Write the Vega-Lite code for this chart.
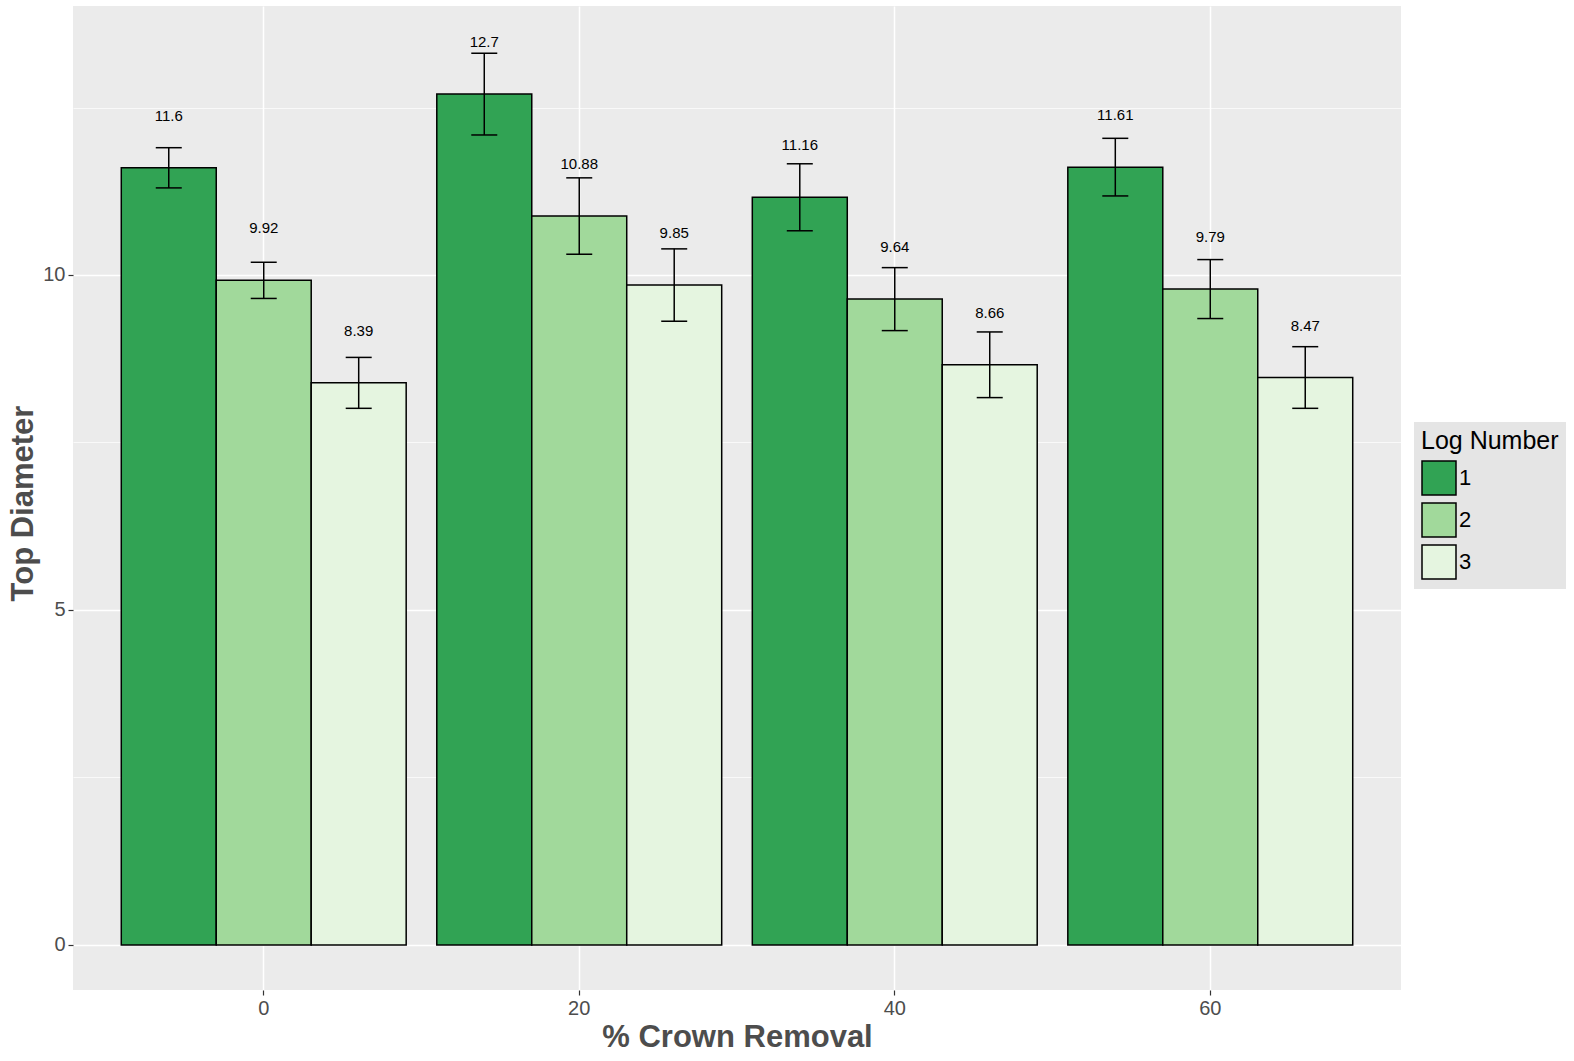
{
  "$schema": "https://vega.github.io/schema/vega-lite/v6.json",
  "autosize": "none",
  "width": 1328,
  "height": 984,
  "padding": {"left": 73, "top": 6, "right": 173, "bottom": 71},
  "background": "white",
  "config": {
    "font": "Liberation Sans",
    "view": {"fill": "#ebebeb", "stroke": null}
  },
  "data": {
    "values": [
      {"removal": "0", "log": "1", "mean": 11.6, "lo": 11.3, "hi": 11.9, "label": "11.6"},
      {"removal": "0", "log": "2", "mean": 9.92, "lo": 9.65, "hi": 10.19, "label": "9.92"},
      {"removal": "0", "log": "3", "mean": 8.39, "lo": 8.01, "hi": 8.77, "label": "8.39"},
      {"removal": "20", "log": "1", "mean": 12.7, "lo": 12.09, "hi": 13.31, "label": "12.7"},
      {"removal": "20", "log": "2", "mean": 10.88, "lo": 10.31, "hi": 11.45, "label": "10.88"},
      {"removal": "20", "log": "3", "mean": 9.85, "lo": 9.31, "hi": 10.39, "label": "9.85"},
      {"removal": "40", "log": "1", "mean": 11.16, "lo": 10.66, "hi": 11.66, "label": "11.16"},
      {"removal": "40", "log": "2", "mean": 9.64, "lo": 9.17, "hi": 10.11, "label": "9.64"},
      {"removal": "40", "log": "3", "mean": 8.66, "lo": 8.17, "hi": 9.15, "label": "8.66"},
      {"removal": "60", "log": "1", "mean": 11.61, "lo": 11.18, "hi": 12.04, "label": "11.61"},
      {"removal": "60", "log": "2", "mean": 9.79, "lo": 9.35, "hi": 10.23, "label": "9.79"},
      {"removal": "60", "log": "3", "mean": 8.47, "lo": 8.01, "hi": 8.93, "label": "8.47"}
    ]
  },
  "encoding": {
    "x": {
      "field": "removal", "type": "nominal", "sort": ["0", "20", "40", "60"],
      "scale": {"paddingInner": 0.097, "paddingOuter": 0.153},
      "axis": {
        "title": "% Crown Removal", "labelAngle": 0, "bandPosition": 0.5,
        "domain": false, "grid": true, "gridColor": "white", "gridWidth": 1.5,
        "tickColor": "#333333", "tickSize": 5, "tickWidth": 1.2,
        "labelFontSize": 20, "labelColor": "#4d4d4d", "labelPadding": 3,
        "titleFontSize": 31, "titleFontWeight": "bold", "titleColor": "#4d4d4d", "titlePadding": 4
      }
    },
    "xOffset": {"field": "log", "type": "nominal", "scale": {"paddingInner": 0, "paddingOuter": 0}}
  },
  "layer": [
    {
      "mark": {"type": "bar", "stroke": "black", "strokeWidth": 1.5},
      "encoding": {
        "y": {
          "field": "mean", "type": "quantitative",
          "scale": {"domain": [-0.672, 14.015], "nice": false, "zero": false},
          "axis": {
            "title": "Top Diameter", "values": [0, 2.5, 5, 7.5, 10, 12.5],
            "labelExpr": "datum.value % 5 === 0 ? format(datum.value, 'd') : ''",
            "domain": false, "grid": true, "gridColor": "white",
            "gridWidth": {"condition": {"test": "datum.value % 5 === 0", "value": 1.5}, "value": 0.7},
            "tickColor": "#333333",
            "tickSize": {"condition": {"test": "datum.value % 5 === 0", "value": 5}, "value": 0},
            "tickWidth": 1.2,
            "labelFontSize": 20, "labelColor": "#4d4d4d", "labelPadding": 3,
            "titleFontSize": 31, "titleFontWeight": "bold", "titleColor": "#4d4d4d",
            "titleX": -50, "titleY": 497, "titleAnchor": "middle", "titleBaseline": "middle"
          }
        },
        "y2": {"datum": 0},
        "fill": {
          "field": "log", "type": "nominal",
          "scale": {"domain": ["1", "2", "3"], "range": ["#31a354", "#a1d99b", "#e5f5e0"]},
          "legend": {
            "title": "Log Number", "orient": "none", "legendX": 1341, "legendY": 416,
            "titleFontSize": 25, "titleFontWeight": "normal", "titleColor": "black",
            "labelFontSize": 22, "labelColor": "black", "labelOffset": 2,
            "symbolType": "square", "symbolSize": 1156, "symbolStrokeColor": "black",
            "symbolStrokeWidth": 1.5, "symbolOpacity": 1, "rowPadding": 2,
            "fillColor": "#e5e5e5", "padding": 7, "titlePadding": 6
          }
        }
      }
    },
    {
      "mark": {"type": "rule", "stroke": "black", "strokeWidth": 1.5},
      "encoding": {
        "y": {"field": "lo", "type": "quantitative"},
        "y2": {"field": "hi"}
      }
    },
    {
      "mark": {"type": "tick", "color": "black", "size": 26, "thickness": 1.5, "orient": "horizontal", "opacity": 1},
      "encoding": {"y": {"field": "lo", "type": "quantitative"}}
    },
    {
      "mark": {"type": "tick", "color": "black", "size": 26, "thickness": 1.5, "orient": "horizontal", "opacity": 1},
      "encoding": {"y": {"field": "hi", "type": "quantitative"}}
    },
    {
      "mark": {"type": "text", "fontSize": 15, "color": "black", "dy": -52, "baseline": "middle"},
      "encoding": {
        "y": {"field": "mean", "type": "quantitative"},
        "text": {"field": "label"}
      }
    }
  ]
}
